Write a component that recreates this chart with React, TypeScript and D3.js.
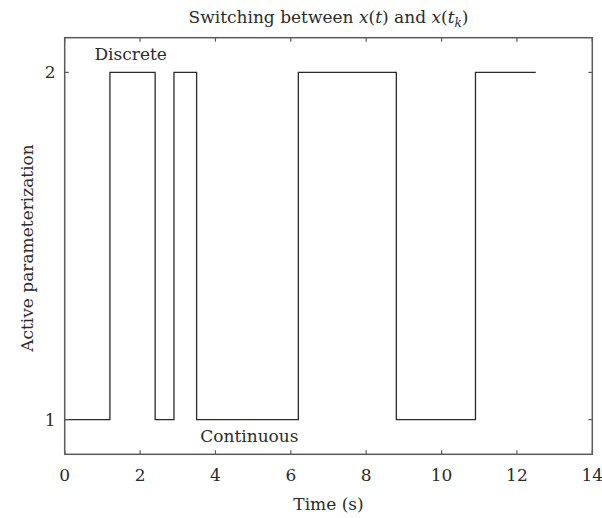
import React from "react";
import * as d3 from "d3";

const switchTimes = [0, 1.2, 2.4, 2.9, 3.5, 6.2, 8.8, 10.9, 12.5];
const modeValues = [1, 2, 1, 2, 1, 2, 1, 2, 2];
const xTicks = [0, 2, 4, 6, 8, 10, 12, 14];
const yTicks = [1, 2];
const annotations = [
  { text: "Discrete", t: 1.75, v: 2.035 },
  { text: "Continuous", t: 4.9, v: 0.935 },
];

const W = 602;
const H = 518;
const M = { left: 64.7, right: 592.3, top: 37.7, bottom: 454.3 };
const FONT = "'DejaVu Serif', 'Liberation Serif', serif";

export default function App() {
  const x = d3.scaleLinear().domain([0, 14]).range([M.left, M.right]);
  const y = d3.scaleLinear().domain([0.9, 2.1]).range([M.bottom, M.top]);
  const pts: [number, number][] = switchTimes.map((t, i) => [t, modeValues[i]]);
  const line = d3
    .line<[number, number]>()
    .x((d) => x(d[0]))
    .y((d) => y(d[1]))
    .curve(d3.curveStepAfter);
  const frame = "#5a5a5a";
  const tl = 4;
  const fs = 17;
  return (
    <svg
      width={W}
      height={H}
      style={{ position: "absolute", left: 0, top: 0, background: "#fff", fontFamily: FONT }}
    >
      <path d={line(pts) || ""} fill="none" stroke="#2b2b2b" strokeWidth={1.3} />
      {xTicks.map((t) => (
        <g key={"x" + t}>
          <line x1={x(t)} x2={x(t)} y1={M.bottom} y2={M.bottom - tl} stroke={frame} strokeWidth={1.2} />
          <line x1={x(t)} x2={x(t)} y1={M.top} y2={M.top + tl} stroke={frame} strokeWidth={1.2} />
          <text x={x(t)} y={M.bottom + 27} textAnchor="middle" fontSize={fs} fill="#2b2b2b">
            {t}
          </text>
        </g>
      ))}
      {yTicks.map((v) => (
        <g key={"y" + v}>
          <line x1={M.left} x2={M.left + tl} y1={y(v)} y2={y(v)} stroke={frame} strokeWidth={1.2} />
          <line x1={M.right} x2={M.right - tl} y1={y(v)} y2={y(v)} stroke={frame} strokeWidth={1.2} />
          <text x={M.left - 9} y={y(v) + 6} textAnchor="end" fontSize={fs} fill="#2b2b2b">
            {v}
          </text>
        </g>
      ))}
      <rect
        x={M.left}
        y={M.top}
        width={M.right - M.left}
        height={M.bottom - M.top}
        fill="none"
        stroke={frame}
        strokeWidth={1.5}
      />
      {annotations.map((a) => (
        <text key={a.text} x={x(a.t)} y={y(a.v)} textAnchor="middle" fontSize={fs} fill="#2b2b2b">
          {a.text}
        </text>
      ))}
      <text x={(M.left + M.right) / 2} y={23} textAnchor="middle" fontSize={fs} fill="#2b2b2b">
        Switching between <tspan fontStyle="italic">x</tspan>(<tspan fontStyle="italic">t</tspan>) and{" "}
        <tspan fontStyle="italic">x</tspan>(<tspan fontStyle="italic">t</tspan>
        <tspan fontStyle="italic" fontSize={12} dy={4}>k</tspan>
        <tspan dy={-4}>)</tspan>
      </text>
      <text x={(M.left + M.right) / 2} y={510} textAnchor="middle" fontSize={fs} fill="#2b2b2b">
        Time (s)
      </text>
      <text
        transform={`translate(33, ${(M.top + M.bottom) / 2 + 2}) rotate(-90)`}
        textAnchor="middle"
        fontSize={fs}
        fill="#2b2b2b"
      >
        Active parameterization
      </text>
    </svg>
  );
}
